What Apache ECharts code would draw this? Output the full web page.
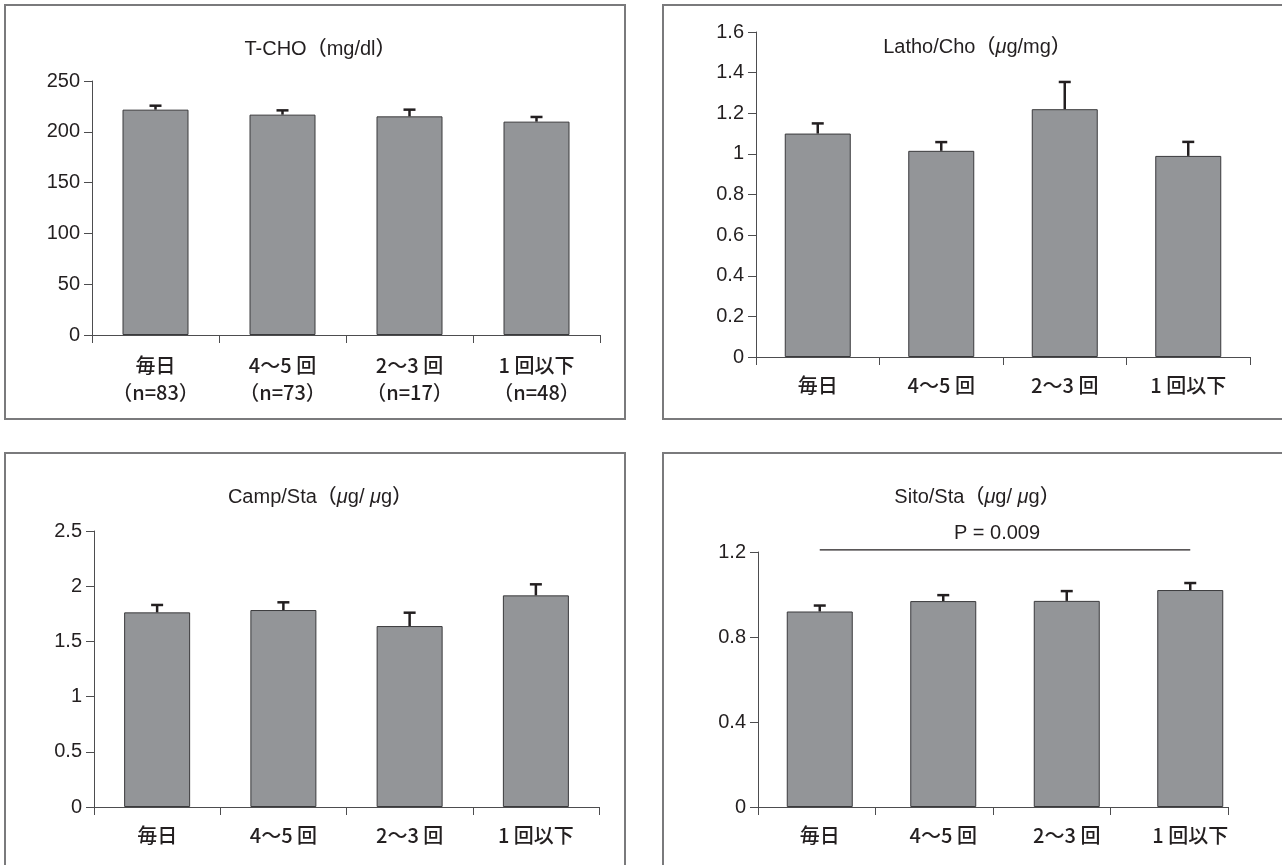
<!DOCTYPE html>
<html>
<head>
<meta charset="utf-8">
<script src="https://cdn.jsdelivr.net/npm/echarts@6/dist/echarts.min.js"></script>
<style>
html,body{margin:0;padding:0;background:#fff;}
#chart{width:1282px;height:865px;}
</style>
</head>
<body>
<div id="chart"></div>
<script>
// ---- data ----
const categories = ['毎日', '4〜5 回', '2〜3 回', '1 回以下'];
const nLabels = ['（n=83）', '（n=73）', '（n=17）', '（n=48）'];

const tchoMean = [221.8, 216.9, 215.2, 210.0];
const tchoErr  = [3.9, 4.2, 6.6, 4.6];
const tchoTicks = [0, 50, 100, 150, 200, 250];

const lathoMean = [1.10, 1.015, 1.22, 0.99];
const lathoErr  = [0.05, 0.043, 0.134, 0.069];
const lathoTicks = [0, 0.2, 0.4, 0.6, 0.8, 1, 1.2, 1.4, 1.6];

const campMean = [1.763, 1.784, 1.639, 1.917];
const campErr  = [0.067, 0.07, 0.121, 0.10];
const campTicks = [0, 0.5, 1, 1.5, 2, 2.5];

const sitoMean = [0.920, 0.969, 0.970, 1.021];
const sitoErr  = [0.028, 0.028, 0.046, 0.033];
const sitoTicks = [0, 0.4, 0.8, 1.2];

const pText = 'P = 0.009';
const pFrom = 0;      // category index where the bracket starts
const pTo = 2.97;     // category index where the bracket ends
const pLevel = 1.21;

// ---- styles ----
const TXT = '#231f20';
const BAR = '#939598';
const AX = '#4d4d4f';
const LATIN = '"Liberation Sans", "Noto Sans CJK JP", sans-serif';
const CJK = '"Noto Sans CJK JP", "Liberation Sans", sans-serif';

const chart = echarts.init(document.getElementById('chart'), null, {renderer: 'canvas'});

const grids = [
  {left: 92, top: 81, width: 508, height: 254},
  {left: 756, top: 32, width: 494, height: 325},
  {left: 94, top: 531, width: 505, height: 276},
  {left: 758, top: 552, width: 494, height: 255},
  // the drawn x-axis line of the Sito/Sta panel is shorter than its bar layout
  {left: 758, top: 552, width: 470, height: 255}
];

const panels = [
  {mean: tchoMean, err: tchoErr, ticks: tchoTicks, twoLine: true},
  {mean: lathoMean, err: lathoErr, ticks: lathoTicks},
  {mean: campMean, err: campErr, ticks: campTicks},
  {mean: sitoMean, err: sitoErr, ticks: sitoTicks, separateAxisLine: true}
];

const titles = [
  {text: '{a|T-CHO（mg/dl）}', left: 315, top: 34},
  {text: '{a|Latho/Cho（}{i|μ}{a|g/mg）}', left: 972, top: 32},
  {text: '{a|Camp/Sta（}{i|μ}{a|g/ }{i|μ}{a|g）}', left: 315, top: 482},
  {text: '{a|Sito/Sta（}{i|μ}{a|g/ }{i|μ}{a|g）}', left: 972, top: 482}
];

const rich = {
  a: {fontFamily: LATIN, fontSize: 20, fontWeight: 500, color: TXT},
  i: {fontFamily: LATIN, fontSize: 20, fontWeight: 500, color: TXT, fontStyle: 'italic'}
};

const xAxes = panels.map((p, i) => ({
  type: 'category',
  gridIndex: i,
  data: categories.map((c, k) => p.twoLine ? c + '\n' + nLabels[k] : c),
  boundaryGap: true,
  axisLine: {show: !p.separateAxisLine, lineStyle: {color: AX, width: 1}},
  axisTick: {show: !p.separateAxisLine, length: 8, lineStyle: {color: AX, width: 1}},
  axisLabel: {
    fontFamily: CJK, fontSize: 20, fontWeight: 500, color: TXT, lineHeight: 27,
    margin: p.twoLine ? 17 : 15, interval: 0
  },
  splitLine: {show: false}
}));
xAxes.push({
  type: 'category',
  gridIndex: 4,
  data: categories,
  boundaryGap: true,
  axisLine: {show: true, lineStyle: {color: AX, width: 1}},
  axisTick: {show: true, length: 8, lineStyle: {color: AX, width: 1}},
  axisLabel: {show: false},
  splitLine: {show: false}
});

const yAxes = panels.map((p, i) => ({
  type: 'value',
  gridIndex: i,
  min: p.ticks[0],
  max: p.ticks[p.ticks.length - 1],
  interval: p.ticks[1] - p.ticks[0],
  axisLine: {show: true, lineStyle: {color: AX, width: 1}},
  axisTick: {show: true, inside: false, length: 8, lineStyle: {color: AX, width: 1}},
  axisLabel: {fontFamily: LATIN, fontSize: 20, color: TXT, margin: 12},
  splitLine: {show: false}
}));
yAxes.push({
  type: 'value', gridIndex: 4, min: sitoTicks[0], max: sitoTicks[sitoTicks.length - 1], show: false
});

const option = {
  animation: false,
  backgroundColor: '#ffffff',
  title: titles.map(t => ({
    text: t.text, left: t.left, top: t.top, textAlign: 'center',
    textStyle: {fontFamily: LATIN, fontSize: 20, fontWeight: 500, color: TXT, rich: rich}
  })),
  graphic: [
    {type: 'rect', shape: {x: 5, y: 5, width: 620, height: 414}, style: {fill: 'none', stroke: '#7a7a7c', lineWidth: 2}, silent: true},
    {type: 'rect', shape: {x: 663, y: 5, width: 640, height: 414}, style: {fill: 'none', stroke: '#7a7a7c', lineWidth: 2}, silent: true},
    {type: 'rect', shape: {x: 5, y: 453, width: 620, height: 500}, style: {fill: 'none', stroke: '#7a7a7c', lineWidth: 2}, silent: true},
    {type: 'rect', shape: {x: 663, y: 453, width: 640, height: 500}, style: {fill: 'none', stroke: '#7a7a7c', lineWidth: 2}, silent: true}
  ],
  grid: grids.map(g => Object.assign({containLabel: false}, g)),
  xAxis: xAxes,
  yAxis: yAxes,
  series: []
};

panels.forEach((p, i) => {
  option.series.push({
    type: 'bar',
    xAxisIndex: i, yAxisIndex: i,
    data: p.mean,
    barWidth: 66,
    itemStyle: {color: BAR, borderColor: '#3a3a3c', borderWidth: 1},
    silent: true,
    z: 2
  });
  option.series.push({
    type: 'custom',
    xAxisIndex: i, yAxisIndex: i,
    data: p.mean.map((m, k) => [k, m, p.err[k]]),
    encode: {x: 0, y: 1},
    silent: true,
    clip: false,
    z: 3,
    renderItem: function (params, api) {
      const x = api.value(0), m = api.value(1), e = api.value(2);
      const base = api.coord([x, m]);
      const top = api.coord([x, m + e]);
      return {
        type: 'group',
        children: [
          {type: 'line', shape: {x1: base[0], y1: base[1], x2: top[0], y2: top[1]}, style: {stroke: TXT, lineWidth: 2.5}},
          {type: 'line', shape: {x1: top[0] - 6, y1: top[1], x2: top[0] + 6, y2: top[1]}, style: {stroke: TXT, lineWidth: 2.5}}
        ]
      };
    }
  });
});

// significance bracket on the Sito/Sta panel
option.series.push({
  type: 'custom',
  xAxisIndex: 3, yAxisIndex: 3,
  data: [[pFrom, pTo, pLevel]],
  encode: {x: 0, y: 2},
  silent: true,
  clip: false,
  z: 4,
  renderItem: function (params, api) {
    const a = api.coord([api.value(0), api.value(2)]);
    const b = api.coord([api.value(1), api.value(2)]);
    return {
      type: 'group',
      children: [
        {type: 'line', shape: {x1: a[0], y1: a[1], x2: b[0], y2: b[1]}, style: {stroke: TXT, lineWidth: 1.2}},
        {type: 'text', style: {text: pText, x: (a[0] + b[0]) / 2 - 8, y: a[1] - 6, textAlign: 'center', textVerticalAlign: 'bottom',
          font: '20px "Liberation Sans", sans-serif', fill: TXT}}
      ]
    };
  }
});

chart.setOption(option);
</script>
</body>
</html>
